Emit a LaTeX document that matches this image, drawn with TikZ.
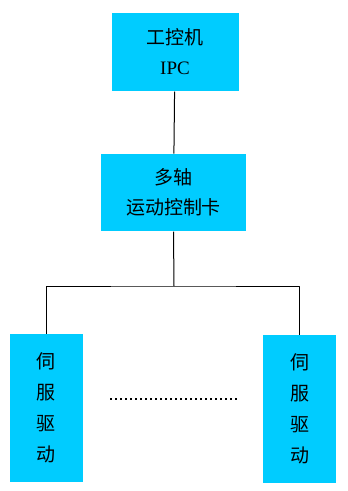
\documentclass[tikz,border=0pt]{standalone}
\usepackage{fontspec}
\setmainfont{Liberation Serif}
\newfontfamily\cjk{Noto Sans CJK SC}
\definecolor{boxcyan}{HTML}{00CCFF}
\tikzset{
  unit/.style={fill=boxcyan, inner sep=0pt, align=center, font=\fontsize{19}{30}\selectfont},
  servo/.style={unit, minimum width=73pt, minimum height=148pt, font=\cjk\fontsize{19}{31}\selectfont},
}
\begin{document}
\begin{tikzpicture}[x=1pt, y=-1pt, line join=round, line width=1pt]
    \useasboundingbox (0,0) rectangle (348,491);
    \node[unit, minimum width=127pt, minimum height=78pt] (ipc) at (175,52) {{\cjk 工控机}\\IPC};
    \node[unit, minimum width=145pt, minimum height=77pt, font=\cjk\fontsize{19}{30}\selectfont] (card) at (173.5,192.5) {多轴\\运动控制卡};
    \node[servo] (servoL) at (46.5,408) {伺\\服\\驱\\动};
    \node[servo] (servoR) at (299.5,409) {伺\\服\\驱\\动};
    \coordinate (split) at (174,286);
    \draw (ipc) -- (card);
    \draw (card.south) -- (split);
    \draw (servoL.north) |- (split) -| (servoR.north);
    \draw[line width=1.8pt, dash pattern=on 1.8pt off 3.2pt] (110,399) -- (237,399);
\end{tikzpicture}
\end{document}
